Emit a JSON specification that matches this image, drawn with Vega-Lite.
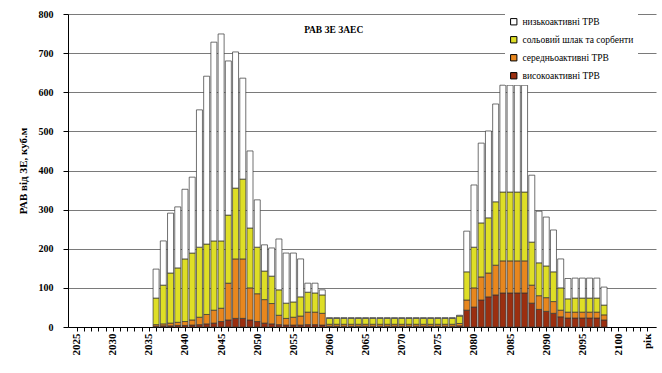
{
  "$schema": "https://vega.github.io/schema/vega-lite/v6.json",
  "width": 588,
  "height": 313,
  "autosize": {"type": "none"},
  "padding": {"left": 68, "top": 14, "right": 6, "bottom": 46},
  "background": "white",
  "config": {"font": "Liberation Serif", "view": {"stroke": null}},
  "data": {
    "values": [
      {"year": 2036, "high": 2, "mid": 4, "salt": 68, "low": 74},
      {"year": 2037, "high": 3, "mid": 5, "salt": 99, "low": 113},
      {"year": 2038, "high": 3, "mid": 7, "salt": 128, "low": 153},
      {"year": 2039, "high": 4, "mid": 8, "salt": 139, "low": 156},
      {"year": 2040, "high": 4, "mid": 10, "salt": 160, "low": 178},
      {"year": 2041, "high": 5, "mid": 13, "salt": 171, "low": 194},
      {"year": 2042, "high": 6, "mid": 19, "salt": 179, "low": 351},
      {"year": 2043, "high": 8, "mid": 24, "salt": 180, "low": 429},
      {"year": 2044, "high": 10, "mid": 33, "salt": 177, "low": 508},
      {"year": 2045, "high": 14, "mid": 34, "salt": 172, "low": 529},
      {"year": 2046, "high": 18, "mid": 94, "salt": 174, "low": 394},
      {"year": 2047, "high": 22, "mid": 152, "salt": 181, "low": 348},
      {"year": 2048, "high": 22, "mid": 152, "salt": 204, "low": 258},
      {"year": 2049, "high": 18, "mid": 82, "salt": 153, "low": 197},
      {"year": 2050, "high": 14, "mid": 71, "salt": 119, "low": 121},
      {"year": 2051, "high": 10, "mid": 60, "salt": 73, "low": 67},
      {"year": 2052, "high": 8, "mid": 52, "salt": 70, "low": 72},
      {"year": 2053, "high": 6, "mid": 24, "salt": 65, "low": 130},
      {"year": 2054, "high": 5, "mid": 17, "salt": 39, "low": 128},
      {"year": 2055, "high": 5, "mid": 20, "salt": 39, "low": 125},
      {"year": 2056, "high": 5, "mid": 23, "salt": 49, "low": 97},
      {"year": 2057, "high": 6, "mid": 32, "salt": 51, "low": 23},
      {"year": 2058, "high": 6, "mid": 32, "salt": 49, "low": 25},
      {"year": 2059, "high": 5, "mid": 30, "salt": 47, "low": 13},
      {"year": 2060, "high": 2, "mid": 5, "salt": 15, "low": 2},
      {"year": 2061, "high": 2, "mid": 5, "salt": 15, "low": 2},
      {"year": 2062, "high": 2, "mid": 5, "salt": 15, "low": 2},
      {"year": 2063, "high": 2, "mid": 5, "salt": 15, "low": 2},
      {"year": 2064, "high": 2, "mid": 5, "salt": 15, "low": 2},
      {"year": 2065, "high": 2, "mid": 5, "salt": 15, "low": 2},
      {"year": 2066, "high": 2, "mid": 5, "salt": 15, "low": 2},
      {"year": 2067, "high": 2, "mid": 5, "salt": 15, "low": 2},
      {"year": 2068, "high": 2, "mid": 5, "salt": 15, "low": 2},
      {"year": 2069, "high": 2, "mid": 5, "salt": 15, "low": 2},
      {"year": 2070, "high": 2, "mid": 5, "salt": 15, "low": 2},
      {"year": 2071, "high": 2, "mid": 5, "salt": 15, "low": 2},
      {"year": 2072, "high": 2, "mid": 5, "salt": 15, "low": 2},
      {"year": 2073, "high": 2, "mid": 5, "salt": 15, "low": 2},
      {"year": 2074, "high": 2, "mid": 5, "salt": 15, "low": 2},
      {"year": 2075, "high": 2, "mid": 5, "salt": 15, "low": 2},
      {"year": 2076, "high": 2, "mid": 5, "salt": 15, "low": 2},
      {"year": 2077, "high": 2, "mid": 5, "salt": 15, "low": 2},
      {"year": 2078, "high": 3, "mid": 6, "salt": 19, "low": 2},
      {"year": 2079, "high": 43, "mid": 26, "salt": 72, "low": 104},
      {"year": 2080, "high": 51, "mid": 49, "salt": 104, "low": 159},
      {"year": 2081, "high": 69, "mid": 59, "salt": 138, "low": 204},
      {"year": 2082, "high": 77, "mid": 61, "salt": 141, "low": 222},
      {"year": 2083, "high": 82, "mid": 76, "salt": 162, "low": 250},
      {"year": 2084, "high": 87, "mid": 82, "salt": 176, "low": 273},
      {"year": 2085, "high": 87, "mid": 82, "salt": 176, "low": 273},
      {"year": 2086, "high": 87, "mid": 82, "salt": 176, "low": 273},
      {"year": 2087, "high": 87, "mid": 82, "salt": 176, "low": 273},
      {"year": 2088, "high": 61, "mid": 46, "salt": 110, "low": 171},
      {"year": 2089, "high": 45, "mid": 35, "salt": 84, "low": 132},
      {"year": 2090, "high": 40, "mid": 35, "salt": 81, "low": 125},
      {"year": 2091, "high": 35, "mid": 30, "salt": 76, "low": 107},
      {"year": 2092, "high": 26, "mid": 17, "salt": 57, "low": 74},
      {"year": 2093, "high": 23, "mid": 15, "salt": 34, "low": 52},
      {"year": 2094, "high": 23, "mid": 15, "salt": 36, "low": 51},
      {"year": 2095, "high": 23, "mid": 15, "salt": 36, "low": 51},
      {"year": 2096, "high": 23, "mid": 15, "salt": 36, "low": 51},
      {"year": 2097, "high": 23, "mid": 15, "salt": 36, "low": 51},
      {"year": 2098, "high": 18, "mid": 13, "salt": 25, "low": 46}
    ]
  },
  "layer": [
    {
      "transform": [
        {"fold": ["high", "mid", "salt", "low"], "as": ["cat", "v"]},
        {"calculate": "indexof(['high','mid','salt','low'], datum.cat)", "as": "ord"}
      ],
      "mark": {"type": "bar", "size": 6, "stroke": "#333333", "strokeWidth": 0.7},
      "encoding": {
        "x": {
          "field": "year",
          "type": "quantitative",
          "scale": {"domain": [2024.5, 2104.5], "nice": false, "zero": false},
          "axis": {
            "title": null,
            "values": [2025,2026,2027,2028,2029,2030,2031,2032,2033,2034,2035,2036,2037,2038,2039,2040,2041,2042,2043,2044,2045,2046,2047,2048,2049,2050,2051,2052,2053,2054,2055,2056,2057,2058,2059,2060,2061,2062,2063,2064,2065,2066,2067,2068,2069,2070,2071,2072,2073,2074,2075,2076,2077,2078,2079,2080,2081,2082,2083,2084,2085,2086,2087,2088,2089,2090,2091,2092,2093,2094,2095,2096,2097,2098,2099,2100,2101,2102,2103,2104],
            "labelExpr": "datum.value == 2104 ? 'рік' : (datum.value % 5 == 0 ? format(datum.value, 'd') : '')",
            "labelAngle": -90,
            "labelAlign": "right",
            "labelBaseline": "middle",
            "labelFontWeight": "bold",
            "labelFontSize": 11,
            "labelColor": "#000000",
            "labelOverlap": false,
            "labelFlush": false,
            "labelBound": false,
            "tickSize": 4,
            "tickColor": "#000000",
            "domainColor": "#000000",
            "labelPadding": 2,
            "grid": false
          }
        },
        "y": {
          "field": "v",
          "type": "quantitative",
          "stack": "zero",
          "scale": {"domain": [0, 800], "nice": false},
          "axis": {
            "title": "РАВ від ЗЕ, куб.м",
            "titleFontWeight": "bold",
            "titleFontSize": 11,
            "titleColor": "#000000",
            "titlePadding": 10,
            "values": [0, 100, 200, 300, 400, 500, 600, 700, 800],
            "labelFontWeight": "bold",
            "labelFontSize": 10,
            "labelColor": "#000000",
            "labelPadding": 10,
            "labelOverlap": false,
            "tickSize": 5,
            "tickColor": "#000000",
            "domainColor": "#000000",
            "grid": true,
            "gridColor": "#7a7a7a",
            "gridWidth": 1.2
          }
        },
        "color": {
          "field": "cat",
          "type": "nominal",
          "scale": {
            "domain": ["low", "salt", "mid", "high"],
            "range": ["#ffffff", "#dede26", "#e8871e", "#9b2f10"]
          },
          "legend": {
            "orient": "none",
            "legendX": 437,
            "legendY": -1,
            "title": null,
            "fillColor": "white",
            "padding": 4,
            "symbolType": "square",
            "symbolSize": 40,
            "symbolStrokeColor": "#000000",
            "symbolStrokeWidth": 1,
            "labelFont": "Liberation Serif",
            "labelFontSize": 9.5,
            "labelColor": "#000000",
            "rowPadding": 7,
            "labelExpr": "datum.label == 'low' ? 'низькоактивні ТРВ' : datum.label == 'salt' ? 'сольовий шлак та сорбенти' : datum.label == 'mid' ? 'середньоактивні ТРВ' : 'високоактивні ТРВ'"
          }
        },
        "order": {"field": "ord", "type": "quantitative"}
      }
    },
    {
      "data": {"values": [{}]},
      "mark": {"type": "text", "font": "Liberation Serif", "fontWeight": "bold", "fontSize": 9.5, "color": "#000000"},
      "encoding": {
        "x": {
          "datum": 2060.6,
          "type": "quantitative",
          "axis": {
            "title": null,
            "values": [2025,2026,2027,2028,2029,2030,2031,2032,2033,2034,2035,2036,2037,2038,2039,2040,2041,2042,2043,2044,2045,2046,2047,2048,2049,2050,2051,2052,2053,2054,2055,2056,2057,2058,2059,2060,2061,2062,2063,2064,2065,2066,2067,2068,2069,2070,2071,2072,2073,2074,2075,2076,2077,2078,2079,2080,2081,2082,2083,2084,2085,2086,2087,2088,2089,2090,2091,2092,2093,2094,2095,2096,2097,2098,2099,2100,2101,2102,2103,2104],
            "labelExpr": "datum.value == 2104 ? 'рік' : (datum.value % 5 == 0 ? format(datum.value, 'd') : '')",
            "labelAngle": -90,
            "labelAlign": "right",
            "labelBaseline": "middle",
            "labelFontWeight": "bold",
            "labelFontSize": 11,
            "labelColor": "#000000",
            "labelOverlap": false,
            "labelFlush": false,
            "labelBound": false,
            "tickSize": 4,
            "tickColor": "#000000",
            "domainColor": "#000000",
            "labelPadding": 2,
            "grid": false
          }
        },
        "y": {
          "datum": 759,
          "type": "quantitative",
          "axis": {
            "title": "РАВ від ЗЕ, куб.м",
            "titleFontWeight": "bold",
            "titleFontSize": 11,
            "titleColor": "#000000",
            "titlePadding": 10,
            "values": [0, 100, 200, 300, 400, 500, 600, 700, 800],
            "labelFontWeight": "bold",
            "labelFontSize": 10,
            "labelColor": "#000000",
            "labelPadding": 10,
            "labelOverlap": false,
            "tickSize": 5,
            "tickColor": "#000000",
            "domainColor": "#000000",
            "grid": true,
            "gridColor": "#7a7a7a",
            "gridWidth": 1.2
          }
        },
        "text": {"value": "РАВ ЗЕ ЗАЕС"}
      }
    }
  ]
}
